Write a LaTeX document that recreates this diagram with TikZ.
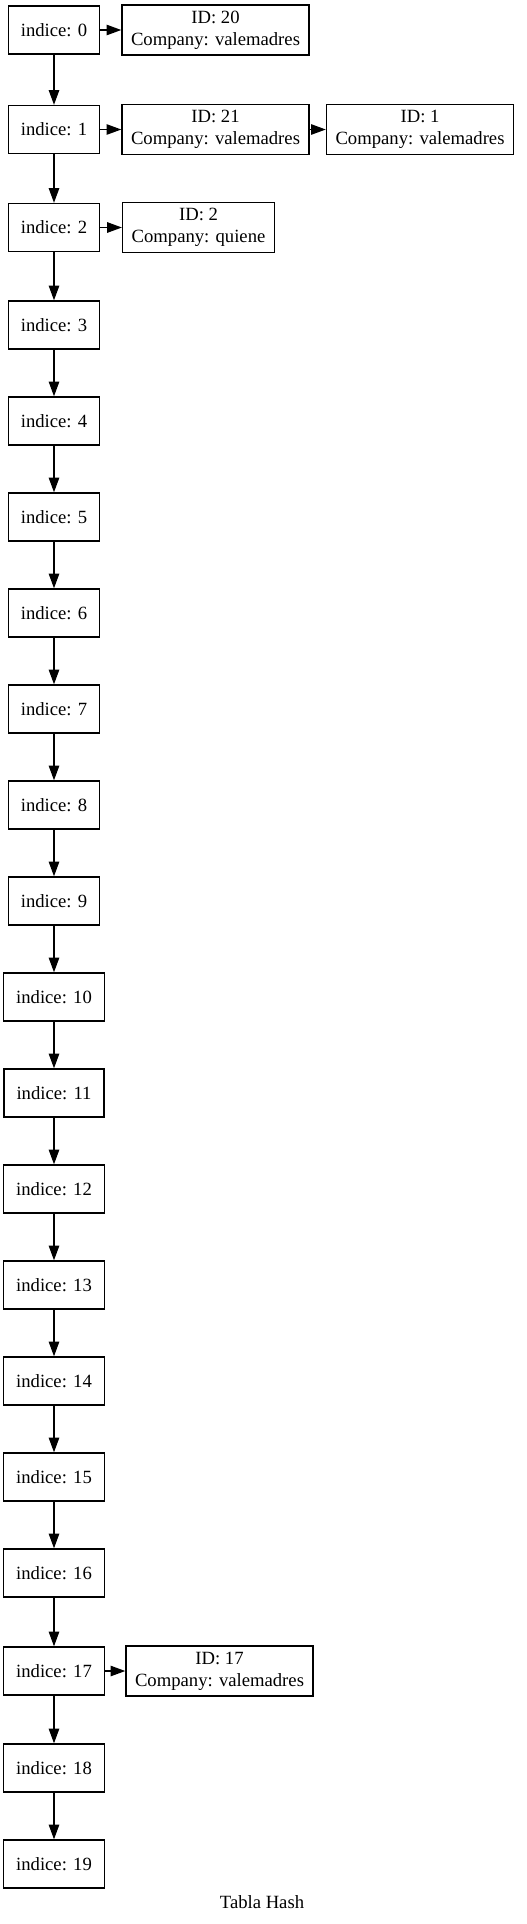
\documentclass[tikz,border=0pt]{standalone}
\usepackage{fontspec}
\setmainfont{Liberation Serif}
\usetikzlibrary{arrows.meta}
\tikzset{
  idxbox/.style={draw, line width=1pt, minimum height=36pt, inner xsep=9.4pt, font=\fontsize{14}{16.5}\selectfont},
  itembox/.style={draw, line width=1pt, minimum height=37.5pt, inner xsep=6.8pt, inner ysep=2pt, align=center, font=\fontsize{14}{16.5}\selectfont},
  link/.style={-{Triangle[length=11pt,width=7.8pt]}, line width=1pt}
}
\begin{document}
\begin{tikzpicture}[x=0.75pt,y=-0.75pt]
            \useasboundingbox (0,0) rectangle (527,1924);
            \node[idxbox] (i0) at (54,30) {indice: 0};
            \node[idxbox] (i1) at (54,129.5) {indice: 1};
            \node[idxbox] (i2) at (54,227.5) {indice: 2};
            \node[idxbox] (i3) at (54,325) {indice: 3};
            \node[idxbox] (i4) at (54,421) {indice: 4};
            \node[idxbox] (i5) at (54,517) {indice: 5};
            \node[idxbox] (i6) at (54,613) {indice: 6};
            \node[idxbox] (i7) at (54,709) {indice: 7};
            \node[idxbox] (i8) at (54,805) {indice: 8};
            \node[idxbox] (i9) at (54,901) {indice: 9};
            \node[idxbox] (i10) at (54,997) {indice: 10};
            \node[idxbox] (i11) at (54,1093) {indice: 11};
            \node[idxbox] (i12) at (54,1189) {indice: 12};
            \node[idxbox] (i13) at (54,1285) {indice: 13};
            \node[idxbox] (i14) at (54,1381) {indice: 14};
            \node[idxbox] (i15) at (54,1477) {indice: 15};
            \node[idxbox] (i16) at (54,1573) {indice: 16};
            \node[idxbox] (i17) at (54,1671) {indice: 17};
            \node[idxbox] (i18) at (54,1768) {indice: 18};
            \node[idxbox] (i19) at (54,1864) {indice: 19};
            % entries of the table
            \node[itembox] (e20) at (215.5,30) {ID: 20\\Company: valemadres};
            \node[itembox] (e21) at (215.5,129.5) {ID: 21\\Company: valemadres};
            \node[itembox] (e1) at (420,129.5) {ID: 1\\Company: valemadres};
            \node[itembox] (e2) at (198.5,227.5) {ID: 2\\Company: quiene};
            \node[itembox] (e17) at (219.5,1671) {ID: 17\\Company: valemadres};
            \node[font=\fontsize{14}{16.5}\selectfont] (title) at (262,1902) {Tabla Hash};
            % links down the table
            \draw[link] (i0)--(i1);
            \draw[link] (i1)--(i2);
            \draw[link] (i2)--(i3);
            \draw[link] (i3)--(i4);
            \draw[link] (i4)--(i5);
            \draw[link] (i5)--(i6);
            \draw[link] (i6)--(i7);
            \draw[link] (i7)--(i8);
            \draw[link] (i8)--(i9);
            \draw[link] (i9)--(i10);
            \draw[link] (i10)--(i11);
            \draw[link] (i11)--(i12);
            \draw[link] (i12)--(i13);
            \draw[link] (i13)--(i14);
            \draw[link] (i14)--(i15);
            \draw[link] (i15)--(i16);
            \draw[link] (i16)--(i17);
            \draw[link] (i17)--(i18);
            \draw[link] (i18)--(i19);
            % links to the entries
            \draw[link] (i0)--(e20);
            \draw[link] (i1)--(e21);
            \draw[link] (e21)--(e1);
            \draw[link] (i2)--(e2);
            \draw[link] (i17)--(e17);
\end{tikzpicture}
\end{document}
